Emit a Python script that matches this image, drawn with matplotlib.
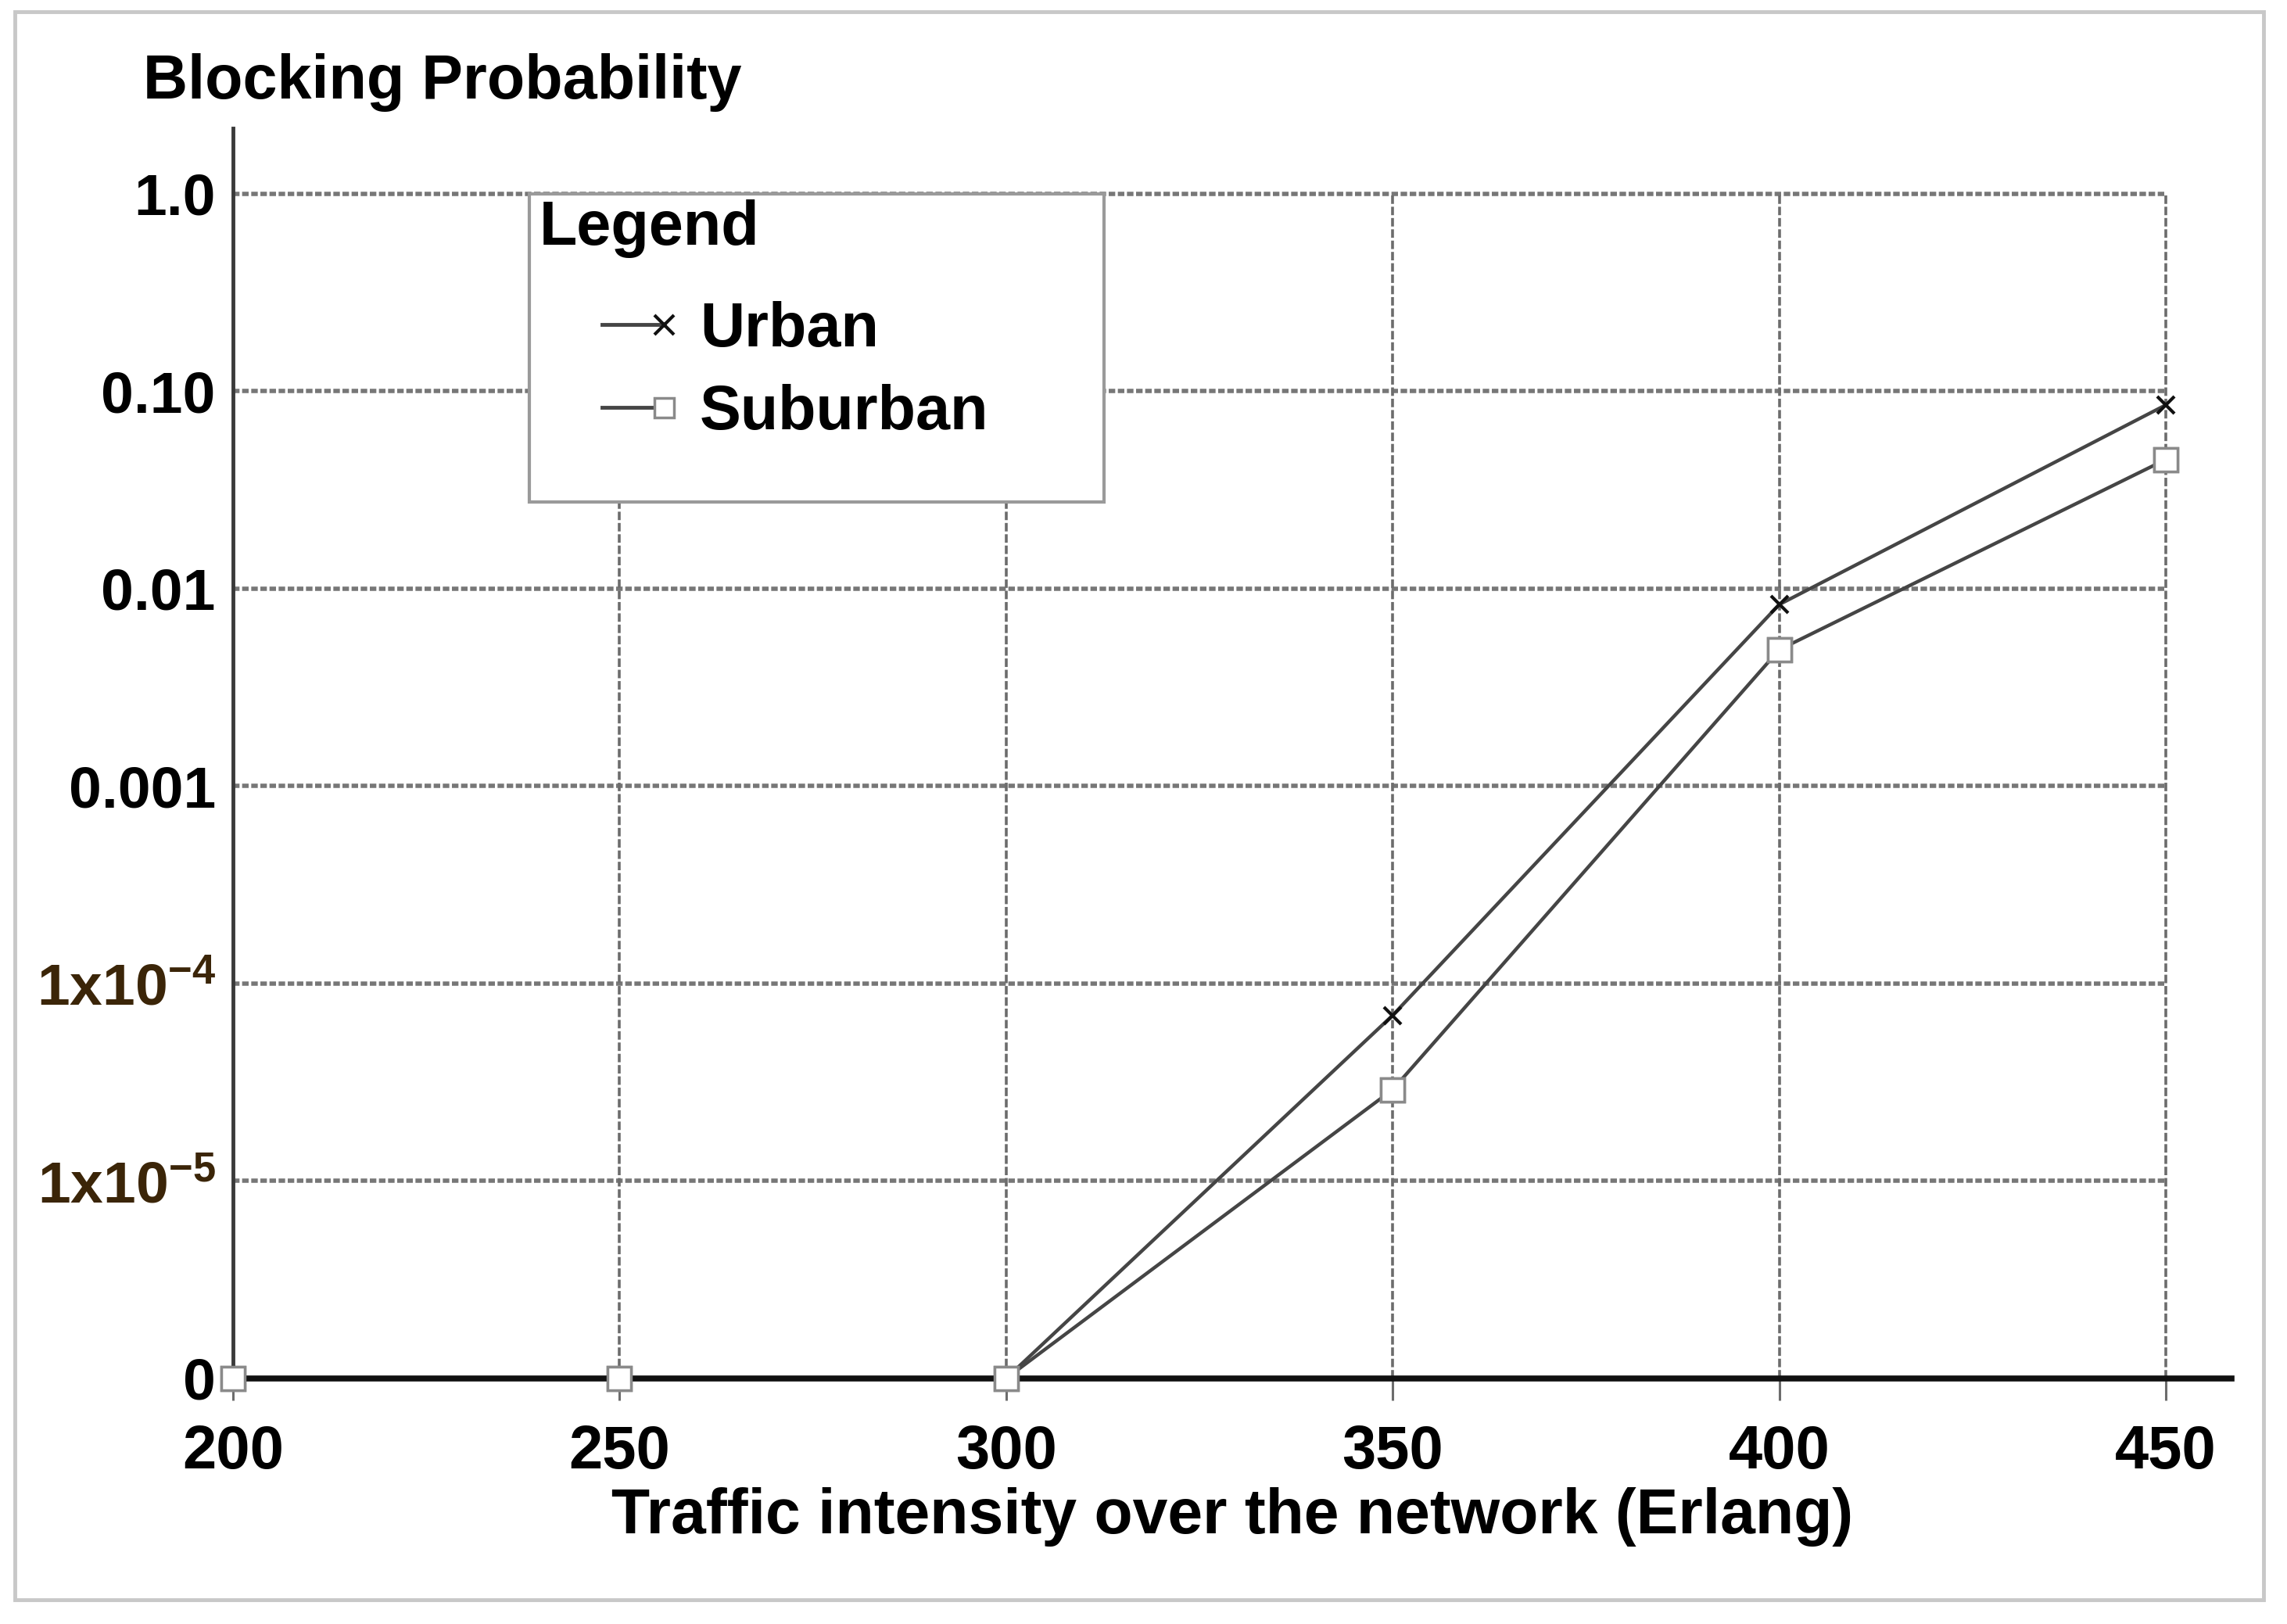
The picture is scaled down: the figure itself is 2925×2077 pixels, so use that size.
import numpy as np
import matplotlib
matplotlib.use("Agg")
import matplotlib.pyplot as plt
from matplotlib.legend_handler import HandlerLine2D
from matplotlib.lines import Line2D
from matplotlib.patches import Rectangle

# ---- data ----
traffic = [200, 250, 300, 350, 400, 450]
urban = [0, 0, 0, 6.9e-5, 8.3e-3, 0.085]
suburban = [0, 0, 0, 2.9e-5, 4.9e-3, 0.045]

x_ticks = [200, 250, 300, 350, 400, 450]
y_ticks = [1e-6, 1e-5, 1e-4, 1e-3, 1e-2, 1e-1, 1.0]
y_labels = ["0", "$1x10^{-5}$", "$1x10^{-4}$", "0.001", "0.01", "0.10", "1.0"]

floor = 1e-6   # where "0" sits on the log axis

plt.rcParams["font.family"] = ["Liberation Sans", "DejaVu Sans"]
plt.rcParams["font.weight"] = "bold"
plt.rcParams["mathtext.fontset"] = "custom"
plt.rcParams["mathtext.rm"] = "Liberation Sans:bold"
plt.rcParams["mathtext.it"] = "Liberation Sans:bold"
plt.rcParams["mathtext.bf"] = "Liberation Sans:bold"
plt.rcParams["mathtext.default"] = "rm"


class EndMarker(HandlerLine2D):
    # short line with the marker at its right end, like "--x"
    def create_artists(self, legend, orig_handle, xdescent, ydescent,
                       width, height, fontsize, trans):
        arts = super().create_artists(legend, orig_handle, xdescent, ydescent,
                                      width, height, fontsize, trans)
        line = arts[0]
        line.set_markevery([len(line.get_xdata()) - 1])
        return arts


fig = plt.figure(figsize=(29.25, 20.77), dpi=100)
ax = fig.add_axes([0.1019, 0.1512, 0.8738, 0.7700])

ax.set_yscale("log")
ax.set_xlim(200, 458.5)
ax.set_ylim(floor, 2.15)

# grid (drawn by hand so it stops at 450 / 1.0 like the original)
ax.hlines(y_ticks[1:], 200, 450, colors="#777777", linewidth=4.0,
          linestyles=(0, (1.5, 0.6)), zorder=1)
ax.vlines(x_ticks[1:], floor, 1.0, colors="#6c6c6c", linewidth=2.6,
          linestyles=(0, (3, 1)), zorder=1)

u = np.where(np.array(urban) > 0, urban, floor)
s = np.where(np.array(suburban) > 0, suburban, floor)

# lines sit under the thick zero axis, markers go on top
ax.plot(traffic, u, color="#454545", linewidth=3.2, marker="x",
        markersize=16, markeredgewidth=3, markeredgecolor="#111111",
        clip_on=False, zorder=2, label="Urban")
ax.plot(traffic, s, color="#454545", linewidth=3.2, marker="s",
        markersize=21, markerfacecolor="white", markeredgecolor="#8a8a8a",
        markeredgewidth=2.5, clip_on=False, zorder=2, label="Suburban")
ax.plot(traffic, s, linestyle="none", marker="s", markersize=21,
        markerfacecolor="white", markeredgecolor="#8a8a8a",
        markeredgewidth=2.5, clip_on=False, zorder=4)

ax.set_xticks(x_ticks)
ax.set_xticklabels([str(v) for v in x_ticks])
ax.set_yticks(y_ticks)
ax.set_yticklabels(y_labels)
ax.minorticks_off()
ax.tick_params(axis="x", direction="out", length=20, width=2.2,
               color="#6c6c6c", pad=22, labelsize=56)
ax.tick_params(axis="y", length=0, pad=16, labelsize=54)
for lab in ax.get_yticklabels()[1:3]:
    lab.set_color("#3b2508")

for side in ["top", "right"]:
    ax.spines[side].set_visible(False)
ax.spines["bottom"].set_linewidth(5.5)
ax.spines["bottom"].set_color("#111111")
ax.spines["bottom"].set_zorder(3)
ax.spines["left"].set_linewidth(3.5)
ax.spines["left"].set_color("#3a3a3a")

ax.set_xlabel("Traffic intensity over the network (Erlang)", fontsize=58,
              fontweight="bold")
ax.xaxis.set_label_coords(0.5, -0.1107)
ax.xaxis.label.set_va("center")

fig.text(0.0626, 0.949, "Blocking Probability", fontsize=57,
         va="center", ha="left")

# legend box
ax.add_patch(Rectangle((0.2315, 0.6909), 0.2512, 0.1897,
                       transform=fig.transFigure, facecolor="white",
                       edgecolor="#9a9a9a", linewidth=3, zorder=5,
                       clip_on=False))
ax.text(0.2359, 0.859, "Legend", fontsize=57, va="center", ha="left",
        transform=fig.transFigure, zorder=6)
leg = ax.legend(loc="upper left", bbox_to_anchor=(0.2632, 0.8146),
                bbox_transform=fig.transFigure, frameon=False, fontsize=57,
                borderpad=0, borderaxespad=0, handlelength=1.0,
                handletextpad=0.58, labelspacing=0.39, numpoints=1,
                handler_map={Line2D: EndMarker()})
leg.set_zorder(7)
for h in leg.legend_handles:
    h.set_markersize(18)
    h.set_linewidth(3.5)

# grey frame round the whole picture
fig.patches.append(Rectangle((0.0065, 0.015), 0.9833, 0.9778,
                             transform=fig.transFigure, fill=False,
                             edgecolor="#c8c8c8", linewidth=3.5))

fig.savefig("out.png", dpi=100)
